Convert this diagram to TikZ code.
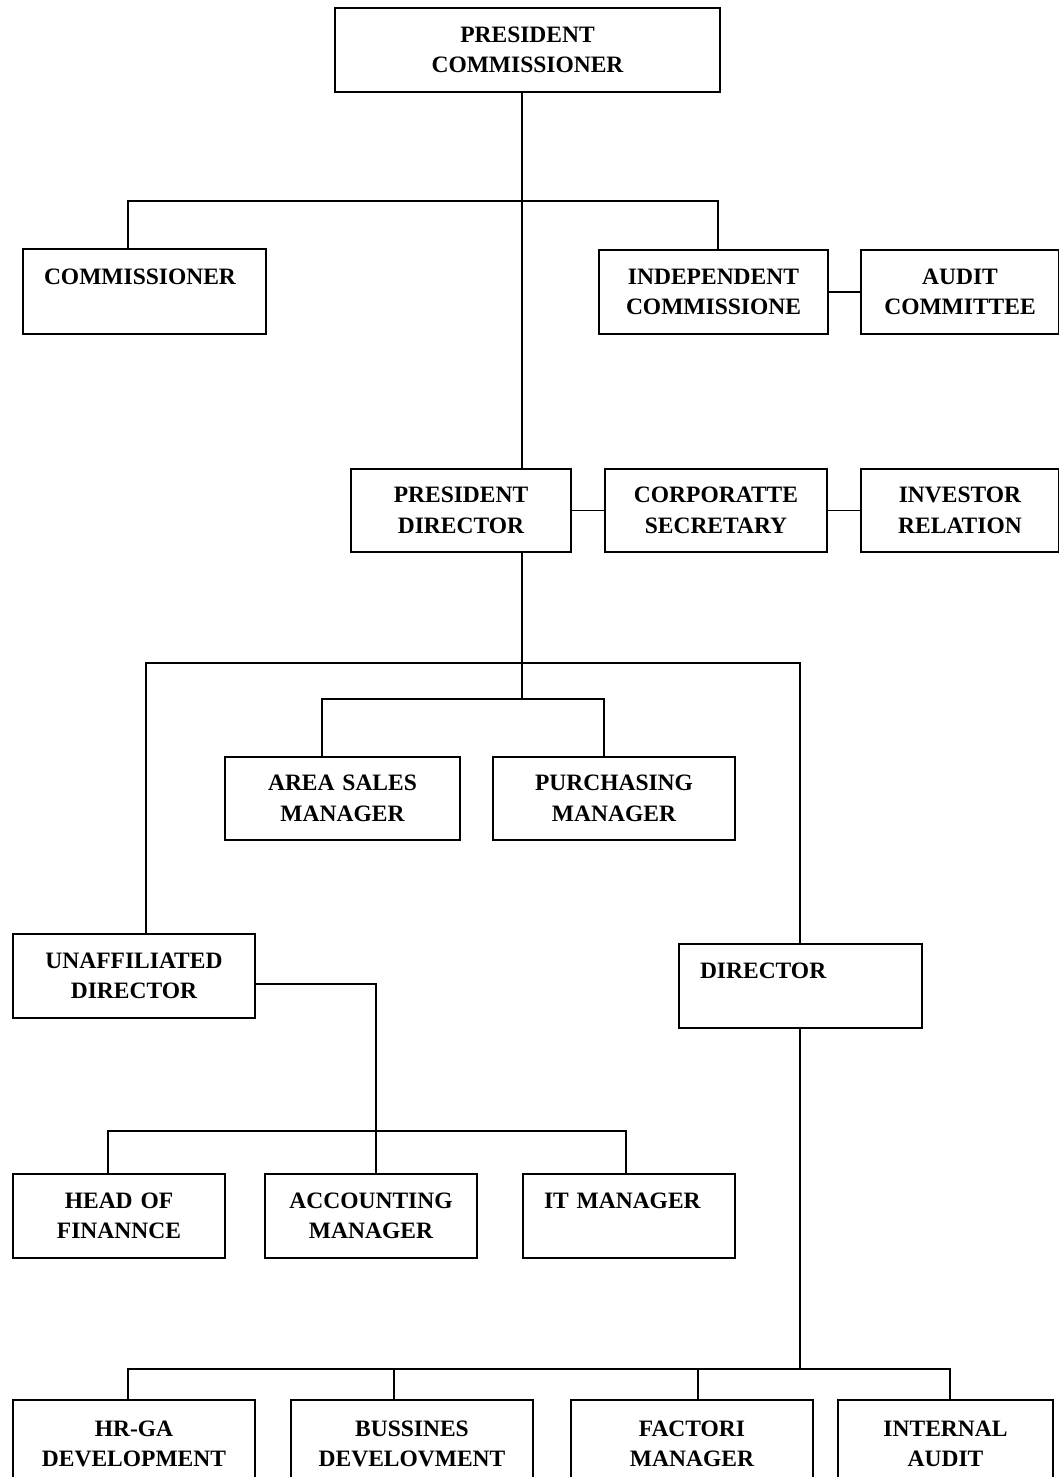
\documentclass[tikz,border=0pt]{standalone}
\usepackage{fontspec}
\setmainfont{Liberation Serif}
\newcommand\bfont{\fontsize{23.5}{30.5}\selectfont\bfseries}
\begin{document}
\begin{tikzpicture}[x=1pt,y=-1pt,
  box/.style={draw,line width=2pt,anchor=north west,inner sep=0pt,align=center,font=\bfont},
  lbox/.style={box,align=left,inner xsep=21pt},
  conn/.style={line width=1.8pt,line cap=rect}]
\useasboundingbox (0,0) rectangle (1059,1477);
\clip (0,0) rectangle (1059,1477);

% boxes
\node[box,minimum width=385pt,text width=385pt,minimum height=84pt] (pc) at (334,7) {PRESIDENT\\COMMISSIONER};
\node[lbox,minimum width=243pt,text width=201pt,minimum height=85pt] (com) at (22,248) {COMMISSIONER\\\mbox{}};
\node[box,minimum width=229pt,text width=229pt,minimum height=84pt] (ic) at (598,249) {INDEPENDENT\\COMMISSIONE};
\node[box,minimum width=198pt,text width=198pt,minimum height=84pt] (ac) at (860,249) {AUDIT\\COMMITTEE};
\node[box,minimum width=220pt,text width=220pt,minimum height=83pt] (pd) at (350,468) {PRESIDENT\\DIRECTOR};
\node[box,minimum width=222pt,text width=222pt,minimum height=83pt] (cs) at (604,468) {CORPORATTE\\SECRETARY};
\node[box,minimum width=198pt,text width=198pt,minimum height=83pt] (ir) at (860,468) {INVESTOR\\RELATION};
\node[box,minimum width=235pt,text width=235pt,minimum height=83pt] (asm) at (224,756) {AREA SALES\\MANAGER};
\node[box,minimum width=242pt,text width=242pt,minimum height=83pt] (pm) at (492,756) {PURCHASING\\MANAGER};
\node[box,minimum width=242pt,text width=242pt,minimum height=84pt] (ud) at (12,933) {UNAFFILIATED\\DIRECTOR};
\node[lbox,minimum width=243pt,text width=201pt,minimum height=84pt] (dir) at (678,943) {DIRECTOR\\\mbox{}};
\node[box,minimum width=212pt,text width=212pt,minimum height=84pt] (hof) at (12,1173) {HEAD OF\\FINANNCE};
\node[box,minimum width=212pt,text width=212pt,minimum height=84pt] (am) at (264,1173) {ACCOUNTING\\MANAGER};
\node[lbox,minimum width=212pt,text width=170pt,minimum height=84pt] (itm) at (522,1173) {IT MANAGER\\\mbox{}};
\node[box,minimum width=242pt,text width=242pt,minimum height=88pt] (hrga) at (12,1399) {HR-GA\\DEVELOPMENT};
\node[box,minimum width=242pt,text width=242pt,minimum height=88pt] (bd) at (290,1399) {BUSSINES\\DEVELOVMENT};
\node[box,minimum width=242pt,text width=242pt,minimum height=88pt] (fm) at (570,1399) {FACTORI\\MANAGER};
\node[box,minimum width=215pt,text width=215pt,minimum height=88pt] (ia) at (837,1399) {INTERNAL\\AUDIT};

% top level connectors
\coordinate (a1) at (128,201);
\coordinate (a2) at (522,201);
\coordinate (a3) at (718,201);
\draw[conn] (pc.south -| a2) -- (pd.north -| a2);
\draw[conn] (a1) -- (a3);
\draw[conn] (a1) -- (com.north -| a1);
\draw[conn] (a3) -- (ic.north -| a3);
\draw[conn] (ic) -- (ac);
\draw[conn] (pd) -- (cs);
\draw[conn] (cs) -- (ir);

% second level
\coordinate (b1) at (146,663);
\coordinate (b2) at (522,663);
\coordinate (b3) at (800,663);
\coordinate (c1) at (322,699);
\coordinate (c2) at (522,699);
\coordinate (c3) at (604,699);
\draw[conn] (pd.south -| b2) -- (c2);
\draw[conn] (b1) -- (b3);
\draw[conn] (b1) -- (ud.north -| b1);
\draw[conn] (b3) -- (dir.north -| b3);
\draw[conn] (c1) -- (c3);
\draw[conn] (c1) -- (asm.north -| c1);
\draw[conn] (c3) -- (pm.north -| c3);

% unaffiliated director branch
\coordinate (d0) at (376,984);
\coordinate (d1) at (108,1131);
\coordinate (d2) at (376,1131);
\coordinate (d3) at (626,1131);
\draw[conn] ([yshift=-8pt]ud.east) -- (d0) -- (d2);
\draw[conn] (d1) -- (d3);
\draw[conn] (d1) -- (hof.north -| d1);
\draw[conn] (d2) -- (am.north -| d2);
\draw[conn] (d3) -- (itm.north -| d3);

% director branch
\coordinate (e1) at (128,1369);
\coordinate (e2) at (394,1369);
\coordinate (e3) at (698,1369);
\coordinate (e4) at (800,1369);
\coordinate (e5) at (950,1369);
\draw[conn] (dir.south -| e4) -- (e4);
\draw[conn] (e1) -- (e5);
\draw[conn] (e1) -- (hrga.north -| e1);
\draw[conn] (e2) -- (bd.north -| e2);
\draw[conn] (e3) -- (fm.north -| e3);
\draw[conn] (e5) -- (ia.north -| e5);
\end{tikzpicture}
\end{document}
